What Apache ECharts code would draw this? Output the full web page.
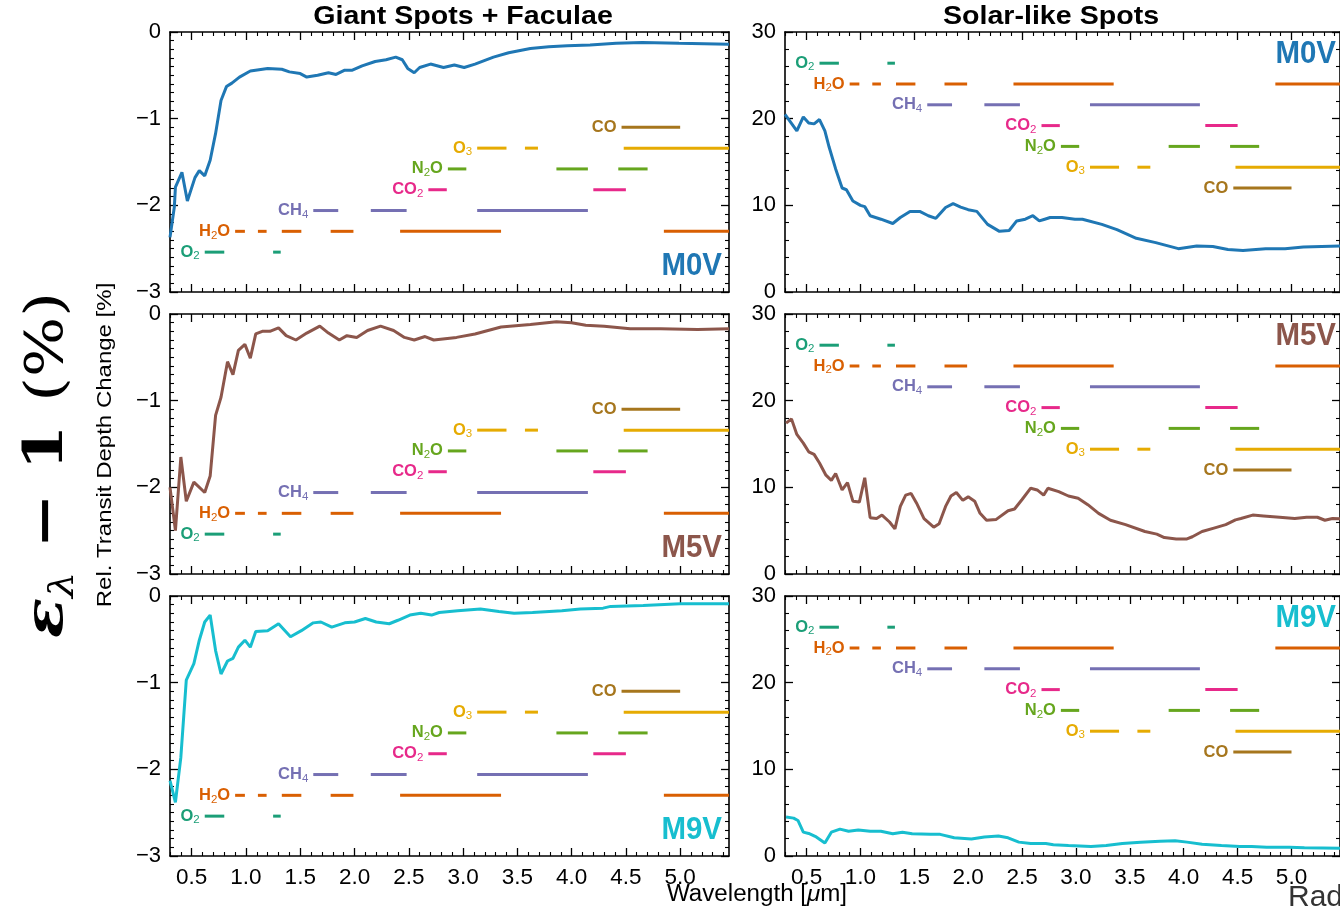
<!DOCTYPE html>
<html>
<head>
<meta charset="utf-8">
<script src="https://cdn.jsdelivr.net/npm/echarts@6/dist/echarts.min.js"></script>
<style>
  html, body { margin: 0; padding: 0; background: #fff; }
  #chart { width: 1340px; height: 909px; }
</style>
</head>
<body>
<div id="chart"></div>
<script>
// ---- Spectra: [wavelength (µm), value] ----
// Giant spots + faculae (relative transit depth change, %)
const giantM0V = [
  [0.30,-2.37],[0.34,-2.02],[0.35,-1.79],[0.41,-1.62],[0.46,-1.95],[0.53,-1.68],[0.57,-1.60],
  [0.62,-1.66],[0.67,-1.48],[0.72,-1.17],[0.77,-0.79],[0.82,-0.63],[0.87,-0.59],[0.94,-0.52],
  [1.04,-0.45],[1.20,-0.42],[1.33,-0.43],[1.40,-0.46],[1.50,-0.48],[1.56,-0.52],[1.66,-0.50],
  [1.76,-0.47],[1.83,-0.49],[1.91,-0.44],[1.98,-0.44],[2.07,-0.39],[2.19,-0.34],[2.29,-0.32],
  [2.38,-0.29],[2.44,-0.32],[2.49,-0.42],[2.55,-0.47],[2.60,-0.41],[2.70,-0.37],[2.82,-0.41],
  [2.92,-0.38],[3.01,-0.41],[3.11,-0.37],[3.28,-0.29],[3.42,-0.24],[3.62,-0.19],[3.79,-0.17],
  [3.96,-0.16],[4.17,-0.15],[4.41,-0.13],[4.65,-0.12],[4.99,-0.13],[5.45,-0.14]
];
const giantM5V = [
  [0.30,-2.00],[0.35,-2.50],[0.40,-1.65],[0.45,-2.16],[0.52,-1.94],[0.62,-2.06],[0.67,-1.87],
  [0.72,-1.17],[0.77,-0.96],[0.83,-0.55],[0.88,-0.70],[0.93,-0.42],[0.99,-0.35],[1.04,-0.51],
  [1.09,-0.23],[1.15,-0.20],[1.22,-0.20],[1.30,-0.16],[1.37,-0.25],[1.46,-0.30],[1.56,-0.22],
  [1.68,-0.14],[1.76,-0.22],[1.86,-0.30],[1.93,-0.25],[2.02,-0.27],[2.12,-0.19],[2.24,-0.14],
  [2.36,-0.19],[2.46,-0.27],[2.55,-0.30],[2.65,-0.26],[2.73,-0.30],[2.94,-0.27],[3.11,-0.23],
  [3.35,-0.15],[3.62,-0.12],[3.86,-0.09],[4.00,-0.10],[4.13,-0.13],[4.30,-0.14],[4.54,-0.17],
  [4.82,-0.17],[5.16,-0.18],[5.45,-0.17]
];
const giantM9V = [
  [0.30,-2.13],[0.35,-2.38],[0.40,-1.86],[0.45,-0.97],[0.52,-0.78],[0.57,-0.51],[0.62,-0.30],
  [0.67,-0.22],[0.72,-0.63],[0.77,-0.90],[0.83,-0.75],[0.88,-0.72],[0.93,-0.59],[0.99,-0.51],
  [1.04,-0.59],[1.09,-0.41],[1.20,-0.40],[1.30,-0.32],[1.41,-0.47],[1.51,-0.40],[1.62,-0.31],
  [1.69,-0.30],[1.79,-0.36],[1.91,-0.31],[2.00,-0.30],[2.10,-0.26],[2.20,-0.30],[2.32,-0.32],
  [2.40,-0.28],[2.51,-0.22],[2.61,-0.20],[2.71,-0.22],[2.78,-0.19],[2.95,-0.17],[3.16,-0.15],
  [3.33,-0.18],[3.47,-0.20],[3.64,-0.19],[3.91,-0.17],[4.08,-0.15],[4.29,-0.14],[4.36,-0.12],
  [4.66,-0.11],[5.00,-0.09],[5.45,-0.09]
];
// Solar-like spots (epsilon_lambda - 1, %)
const solarM0V = [
  [0.30,20.5],[0.41,18.6],[0.47,20.2],[0.52,19.5],[0.57,19.4],[0.62,19.9],[0.67,18.6],[0.71,16.7],
  [0.77,14.2],[0.83,12.0],[0.87,11.8],[0.93,10.5],[1.00,10.0],[1.04,9.85],[1.09,8.8],[1.19,8.4],
  [1.30,7.9],[1.37,8.6],[1.46,9.3],[1.55,9.3],[1.63,8.8],[1.70,8.5],[1.79,9.75],[1.86,10.2],
  [1.93,9.8],[2.00,9.5],[2.08,9.3],[2.18,7.8],[2.29,7.0],[2.38,7.1],[2.45,8.2],[2.53,8.4],
  [2.60,8.8],[2.66,8.2],[2.71,8.4],[2.76,8.6],[2.87,8.6],[2.99,8.4],[3.06,8.4],[3.24,7.8],
  [3.38,7.2],[3.56,6.2],[3.74,5.7],[3.95,5.0],[4.12,5.3],[4.27,5.25],[4.41,4.9],[4.55,4.8],
  [4.76,5.0],[4.94,5.0],[5.11,5.2],[5.45,5.3]
];
const solarM5V = [
  [0.31,17.4],[0.36,17.9],[0.41,16.1],[0.47,15.1],[0.52,14.1],[0.57,13.8],[0.62,12.8],[0.68,11.4],
  [0.73,10.8],[0.77,11.6],[0.83,9.7],[0.88,10.55],[0.93,8.4],[0.99,8.3],[1.04,11.1],[1.09,6.5],
  [1.15,6.4],[1.20,6.8],[1.27,6.0],[1.32,5.2],[1.37,7.8],[1.42,9.1],[1.47,9.3],[1.52,8.2],
  [1.59,6.4],[1.68,5.4],[1.73,5.8],[1.79,7.8],[1.84,9.0],[1.89,9.4],[1.95,8.5],[2.00,8.9],
  [2.06,8.4],[2.11,7.0],[2.17,6.2],[2.26,6.3],[2.37,7.3],[2.43,7.5],[2.50,8.6],[2.58,9.9],
  [2.64,9.7],[2.70,9.1],[2.74,9.9],[2.84,9.5],[2.93,9.0],[3.02,8.75],[3.11,8.0],[3.21,7.0],
  [3.32,6.2],[3.46,5.7],[3.64,4.9],[3.75,4.6],[3.82,4.2],[3.93,4.05],[4.03,4.05],[4.08,4.3],
  [4.17,4.9],[4.28,5.3],[4.39,5.7],[4.48,6.25],[4.53,6.4],[4.64,6.8],[4.74,6.7],[4.89,6.55],
  [5.03,6.4],[5.14,6.55],[5.24,6.55],[5.31,6.2],[5.38,6.4],[5.47,6.35]
];
const solarM9V = [
  [0.31,4.5],[0.38,4.37],[0.42,4.1],[0.47,2.75],[0.52,2.6],[0.59,2.2],[0.67,1.5],[0.73,2.75],
  [0.81,3.1],[0.89,2.85],[0.98,3.0],[1.09,2.85],[1.19,2.85],[1.30,2.56],[1.39,2.75],[1.48,2.56],
  [1.65,2.5],[1.74,2.5],[1.87,2.1],[2.03,1.95],[2.15,2.2],[2.28,2.3],[2.37,2.1],[2.47,1.6],
  [2.58,1.45],[2.72,1.45],[2.79,1.3],[2.93,1.2],[3.14,1.1],[3.28,1.2],[3.43,1.45],[3.60,1.6],
  [3.78,1.7],[3.92,1.75],[4.03,1.6],[4.17,1.35],[4.35,1.2],[4.52,1.1],[4.63,1.1],[4.77,1.0],
  [4.98,1.0],[5.12,0.95],[5.45,0.9]
];

// ---- Molecular absorption bands: [start, end] in µm ----
const bandMolecules = ['O2', 'H2O', 'CH4', 'CO2', 'N2O', 'O3', 'CO'];
const o2Bands  = [[0.62, 0.80], [1.25, 1.32]];
const h2oBands = [[0.90, 0.99], [1.11, 1.19], [1.33, 1.51], [1.78, 1.99], [2.42, 3.35], [4.85, 5.50]];
const ch4Bands = [[1.62, 1.85], [2.15, 2.48], [3.13, 4.15]];
const co2Bands = [[2.68, 2.85], [4.20, 4.50]];
const n2oBands = [[2.86, 3.03], [3.86, 4.15], [4.43, 4.70]];
const o3Bands  = [[3.13, 3.40], [3.57, 3.69], [4.48, 5.50]];
const coBands  = [[4.46, 5.00]];
// Row height for each molecule (same order as bandMolecules)
const giantBandLevels = [-2.54, -2.30, -2.06, -1.82, -1.58, -1.34, -1.10];
const solarBandLevels = [26.4, 24.0, 21.6, 19.2, 16.8, 14.4, 12.0];

// ---- Axes ----
const xRange = [0.3, 5.45];
const xMajorTicks = [0.5, 1.0, 1.5, 2.0, 2.5, 3.0, 3.5, 4.0, 4.5, 5.0];
const giantYRange = [-3, 0];
const solarYRange = [0, 30];
const starTypes = ['M0V', 'M5V', 'M9V'];

const bandSets = [o2Bands, h2oBands, ch4Bands, co2Bands, n2oBands, o3Bands, coBands];
const bandColors = ['#1b9e77', '#d95f02', '#7570b3', '#e7298a', '#66a61e', '#e6ab02', '#a6761d'];
const starColors = ['#1f77b4', '#8c564b', '#17becf'];
const giantSeries = [giantM0V, giantM5V, giantM9V];
const solarSeries = [solarM0V, solarM5V, solarM9V];

const FONT = '"Liberation Sans", Arial, Helvetica, sans-serif';

// minor x ticks every 0.1 µm (skipping the labelled ones)
const xMinorTicks = [];
for (let i = 3; i <= 54; i++) { if (i % 5 !== 0) xMinorTicks.push(i / 10); }

// molecule label as rich text with subscripts
const bandLabelText = {
  O2: '{b|O}{s|2}', H2O: '{b|H}{s|2}{b|O}', CH4: '{b|CH}{s|4}', CO2: '{b|CO}{s|2}',
  N2O: '{b|N}{s|2}{b|O}', O3: '{b|O}{s|3}', CO: '{b|CO}'
};

function bandData(levels) {
  const out = [];
  bandSets.forEach((set, mi) => {
    set.forEach((seg, si) => out.push([seg[0], seg[1], levels[mi], mi, si === 0 ? 1 : 0]));
  });
  return out;
}

function renderBand(params, api) {
  const x0 = api.value(0), x1 = api.value(1), lv = api.value(2);
  const mi = api.value(3), first = api.value(4);
  const p0 = api.coord([x0, lv]);
  const p1 = api.coord([x1, lv]);
  const cs = params.coordSys;
  const xr = Math.min(p1[0], cs.x + cs.width);
  const col = bandColors[mi];
  const children = [{
    type: 'line',
    shape: { x1: p0[0], y1: p0[1], x2: xr, y2: p1[1] },
    style: { stroke: col, lineWidth: 3 }
  }];
  if (first) {
    children.push({
      type: 'text',
      x: p0[0] - 5, y: p0[1],
      style: {
        text: bandLabelText[bandMolecules[mi]],
        align: 'right', verticalAlign: 'middle', fill: col,
        rich: {
          b: { fontFamily: FONT, fontWeight: 'bold', fontSize: 16.5, fill: col, lineHeight: 20 },
          s: { fontFamily: FONT, fontSize: 11.5, fill: col, lineHeight: 20, verticalAlign: 'bottom' }
        }
      }
    });
  }
  return { type: 'group', children };
}

const PANEL_W = 559, PANEL_H = 260;
const colLefts = [170, 785];
const rowTops = [32, 314, 596];

const grids = [], xAxes = [], yAxes = [], series = [], graphics = [];
const axisColor = '#000';

rowTops.forEach((top, r) => {
  colLefts.forEach((left, c) => {
    const g = grids.length;
    grids.push({ left, top, width: PANEL_W, height: PANEL_H });
    const xBase = { type: 'value', gridIndex: g, min: xRange[0], max: xRange[1], splitLine: { show: false } };
    const tickMajor = { inside: true, length: 8, lineStyle: { color: axisColor, width: 1.3 } };
    const tickMinor = { inside: true, length: 4, lineStyle: { color: axisColor, width: 1.1 } };
    ['bottom', 'top'].forEach(pos => {
      xAxes.push(Object.assign({}, xBase, {
        position: pos,
        axisLine: { show: true, onZero: false, lineStyle: { color: axisColor, width: 1.6 } },
        axisTick: Object.assign({ customValues: xMajorTicks }, tickMajor),
        axisLabel: {
          show: pos === 'bottom' && r === 2, customValues: xMajorTicks,
          formatter: v => v.toFixed(1), color: '#000', fontSize: 22.5, fontFamily: FONT, margin: 10
        }
      }));
      xAxes.push(Object.assign({}, xBase, {
        position: pos,
        axisLine: { show: false, onZero: false },
        axisTick: Object.assign({ customValues: xMinorTicks }, tickMinor),
        axisLabel: { show: false }
      }));
    });
    const giant = c === 0;
    const yr = giant ? giantYRange : solarYRange;
    ['left', 'right'].forEach(pos => {
      yAxes.push({
        type: 'value', gridIndex: g, position: pos,
        min: yr[0], max: yr[1], interval: giant ? 1 : 10,
        splitLine: { show: false },
        axisLine: { show: true, onZero: false, lineStyle: { color: axisColor, width: 1.6 } },
        axisTick: tickMajor,
        minorTick: { show: true, splitNumber: giant ? 10 : 5, length: 4, lineStyle: { color: axisColor, width: 1.1 } },
        axisLabel: {
          show: pos === 'left',
          formatter: v => (v < 0 ? '\u2212' + Math.abs(v) : String(v)),
          color: '#000', fontSize: 22, fontFamily: FONT, margin: 9
        }
      });
    });
    const xi = g * 4, yi = g * 2;
    series.push({
      type: 'line', xAxisIndex: xi, yAxisIndex: yi,
      data: giant ? giantSeries[r] : solarSeries[r],
      showSymbol: false, clip: true, silent: true,
      lineStyle: { color: starColors[r], width: 3 }, z: 5
    });
    series.push({
      type: 'custom', xAxisIndex: xi, yAxisIndex: yi,
      data: bandData(giant ? giantBandLevels : solarBandLevels),
      encode: { x: [0, 1], y: 2 },
      renderItem: renderBand, silent: true, z: 4
    });
    // star type tag
    graphics.push({
      type: 'text',
      x: giant ? left + PANEL_W - 7 : left + PANEL_W - 8,
      y: giant ? top + 234 : top + 22,
      scaleX: 0.95,
      style: {
        text: starTypes[r], fill: starColors[r], font: 'bold 31px ' + FONT,
        align: 'right', verticalAlign: 'middle'
      },
      z: 10
    });
  });
});

// column titles
graphics.push({
  type: 'text', x: 463, y: 17, scaleX: 1.1,
  style: { text: 'Giant Spots + Faculae', font: 'bold 26px ' + FONT, fill: '#000', align: 'center', verticalAlign: 'middle' }
});
graphics.push({
  type: 'text', x: 1051, y: 17, scaleX: 1.1,
  style: { text: 'Solar-like Spots', font: 'bold 26px ' + FONT, fill: '#000', align: 'center', verticalAlign: 'middle' }
});
// shared axis titles
graphics.push({
  type: 'text', x: 105, y: 445, rotation: Math.PI / 2, scaleX: 1.2,
  style: { text: 'Rel. Transit Depth Change [%]', font: '20px ' + FONT, fill: '#000', align: 'center', verticalAlign: 'middle' }
});
graphics.push({
  type: 'text', x: 48, y: 465, rotation: Math.PI / 2, scaleX: 1.22,
  style: {
    text: '{e|\u03B5}{l|\u03BB}{m| \u2212 1 }{p|(%)}',
    align: 'center', verticalAlign: 'middle',
    rich: {
      e: { fontFamily: '"DejaVu Serif", serif', fontStyle: 'italic', fontWeight: 'bold', fontSize: 54, fill: '#000', lineHeight: 66 },
      l: { fontFamily: '"DejaVu Serif", serif', fontStyle: 'italic', fontSize: 34, fill: '#000', lineHeight: 66, verticalAlign: 'bottom' },
      m: { fontFamily: '"DejaVu Serif", serif', fontWeight: 'bold', fontSize: 54, fill: '#000', lineHeight: 66 },
      p: { fontFamily: '"DejaVu Serif", serif', fontSize: 52, fill: '#000', lineHeight: 66 }
    }
  }
});
graphics.push({
  type: 'text', x: 757, y: 895, scaleX: 1.05,
  style: {
    text: 'Wavelength [{i|\u03BC}m]', font: '23px ' + FONT, fill: '#000', align: 'center', verticalAlign: 'middle',
    rich: { i: { fontFamily: FONT, fontStyle: 'italic', fontSize: 23, fill: '#000' } }
  }
});
graphics.push({
  type: 'text', x: 1288, y: 898,
  style: { text: 'Rad', font: '30px ' + FONT, fill: '#333', align: 'left', verticalAlign: 'middle' }
});

const chart = echarts.init(document.getElementById('chart'), null, { renderer: 'canvas' });
chart.setOption({
  animation: false,
  backgroundColor: '#fff',
  grid: grids,
  xAxis: xAxes,
  yAxis: yAxes,
  series,
  graphic: graphics
});
</script>
</body>
</html>
